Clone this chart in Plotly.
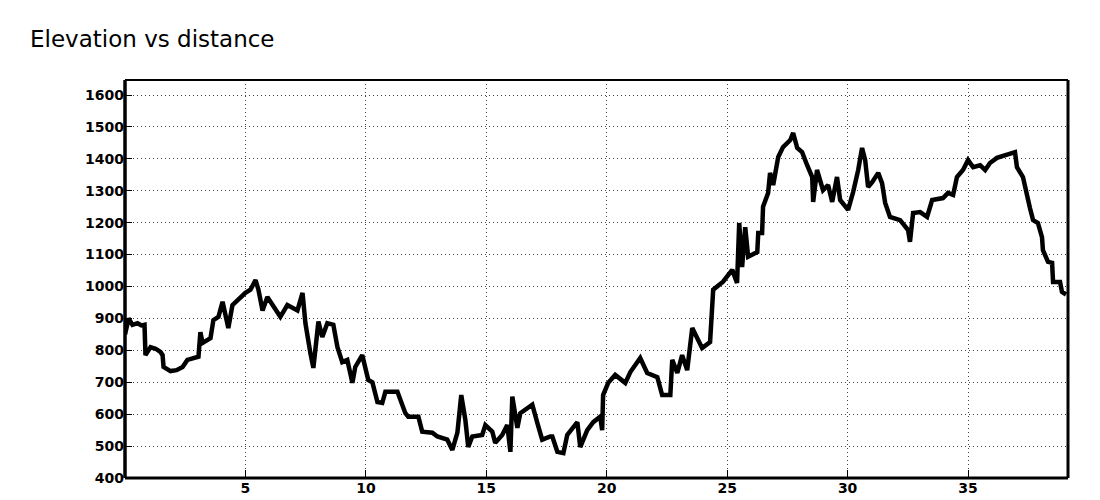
import plotly.graph_objects as go

title_text = "Elevation vs distance"

distance_km = [
    0.0, 0.15, 0.31, 0.52, 0.68, 0.81, 0.85, 1.06, 1.27, 1.47, 1.56, 1.60, 1.89, 2.14, 2.39, 2.59,
    3.05, 3.13, 3.22, 3.55, 3.67, 3.88, 4.05, 4.29, 4.46, 4.67, 5.00, 5.21, 5.42, 5.54, 5.71, 5.91,
    6.45, 6.74, 7.16, 7.37, 7.49, 7.70, 7.82, 8.03, 8.19, 8.40, 8.65, 8.82, 9.02, 9.23, 9.44, 9.56,
    9.85, 10.10, 10.27, 10.48, 10.68, 10.81, 11.31, 11.64, 11.76, 12.18, 12.34, 12.76, 12.97, 13.38,
    13.59, 13.80, 13.96, 14.13, 14.25, 14.42, 14.83, 14.96, 15.25, 15.37, 15.66, 15.87, 16.00, 16.08,
    16.29, 16.41, 16.91, 17.12, 17.32, 17.66, 17.74, 17.95, 18.20, 18.36, 18.78, 18.90, 19.19, 19.44,
    19.73, 19.81, 19.85, 20.06, 20.35, 20.77, 20.98, 21.39, 21.68, 22.10, 22.30, 22.64, 22.72, 22.93,
    23.13, 23.34, 23.55, 23.76, 23.96, 24.29, 24.42, 24.83, 25.21, 25.41, 25.50, 25.62, 25.75, 25.87,
    26.25, 26.29, 26.45, 26.49, 26.70, 26.78, 26.91, 27.12, 27.32, 27.62, 27.74, 27.91, 28.11, 28.32,
    28.53, 28.57, 28.73, 28.98, 29.19, 29.36, 29.56, 29.69, 30.02, 30.23, 30.44, 30.60, 30.73, 30.85,
    31.02, 31.27, 31.43, 31.56, 31.76, 32.18, 32.51, 32.59, 32.72, 33.01, 33.30, 33.51, 33.96, 34.17,
    34.38, 34.54, 34.79, 35.00, 35.21, 35.50, 35.71, 35.91, 36.20, 36.95, 37.03, 37.28, 37.45, 37.57,
    37.70, 37.90, 38.07, 38.11, 38.32, 38.49, 38.53, 38.82, 38.90, 39.07,
]

elevation_m = [
    850, 900, 880, 885, 878, 880, 785, 810, 805, 795, 785, 748, 735, 738, 748, 770,
    780, 857, 823, 838, 895, 905, 952, 870, 942, 958, 980, 990, 1020, 990, 925, 967,
    905, 942, 925, 980, 885, 790, 745, 890, 842, 885, 880, 810, 763, 770, 698, 748,
    785, 707, 700, 638, 635, 670, 670, 603, 592, 592, 545, 542, 530, 520,
    488, 542, 660, 582, 497, 530, 535, 566, 545, 510, 535, 566, 482, 655,
    557, 603, 630, 572, 520, 530, 530, 482, 478, 535, 575, 497, 550, 575,
    592, 550, 660, 698, 723, 698, 732, 776, 729, 716, 660, 660, 770, 729,
    785, 738, 870, 838, 807, 826, 990, 1015, 1052, 1011, 1199, 1061, 1186, 1093,
    1108, 1168, 1168, 1250, 1293, 1356, 1318, 1406, 1437, 1459, 1481, 1434, 1421, 1380,
    1343, 1265, 1365, 1302, 1318, 1265, 1343, 1271, 1240, 1296, 1365, 1434, 1396, 1312,
    1327, 1356, 1324, 1262, 1218, 1208, 1177, 1140, 1230, 1233, 1218, 1271, 1277, 1293,
    1287, 1343, 1365, 1396, 1374, 1380, 1365, 1387, 1403, 1421, 1374, 1343, 1280, 1246,
    1208, 1199, 1155, 1114, 1077, 1074, 1014, 1014, 983, 975,
]

x_ticks = [5, 10, 15, 20, 25, 30, 35]
y_ticks = [400, 500, 600, 700, 800, 900, 1000, 1100, 1200, 1300, 1400, 1500, 1600]

# The page body has an 8px margin, so the figure is sized/offset to compensate.
W, H, OFF = 1092, 492, 8
PLOT_L, PLOT_R, PLOT_T, PLOT_B = 125, 1068, 80, 478

fig = go.Figure()
fig.add_trace(go.Scatter(
    x=distance_km, y=elevation_m, mode="lines",
    line=dict(color="black", width=4.5),
    hoverinfo="skip", showlegend=False,
))

tick_font = dict(family="DejaVu Sans", size=14, color="black", weight="bold")

fig.update_layout(
    width=W, height=H,
    margin=dict(l=PLOT_L - OFF, r=W + OFF - PLOT_R, t=PLOT_T - OFF, b=H + OFF - PLOT_B,
                autoexpand=False),
    paper_bgcolor="white", plot_bgcolor="white",
    title=dict(text=title_text, x=(30 - OFF) / W, xanchor="left", xref="container",
               y=1 - (39 - OFF) / H, yanchor="middle", yref="container",
               font=dict(family="DejaVu Sans", size=23, color="black")),
    xaxis=dict(range=[0, 39.15], tickvals=x_ticks, ticktext=[str(v) for v in x_ticks],
               showgrid=True, gridcolor="#444", griddash="1px,3px", gridwidth=1,
               ticks="inside", ticklen=8, tickcolor="black", tickwidth=1,
               zeroline=False, showline=False, tickfont=tick_font, automargin=False,
               fixedrange=True),
    yaxis=dict(range=[400, 1647], tickvals=y_ticks, ticktext=[str(v) for v in y_ticks],
               showgrid=True, gridcolor="#444", griddash="1px,3px", gridwidth=1,
               ticks="inside", ticklen=7, tickcolor="black", tickwidth=1,
               zeroline=False, showline=False, tickfont=tick_font, automargin=False,
               fixedrange=True),
)

# plot frame
frame = [
    (0, 0, 1, 0, 3),
    (0, 1, 1, 1, 2),
    (0, 0, 0, 1, 3.5),
    (1, 0, 1, 1, 3),
]
for x0, y0, x1, y1, w in frame:
    fig.add_shape(type="line", xref="paper", yref="paper", x0=x0, y0=y0, x1=x1, y1=y1,
                  line=dict(color="black", width=w), layer="above")

fig.write_html("out.html")
